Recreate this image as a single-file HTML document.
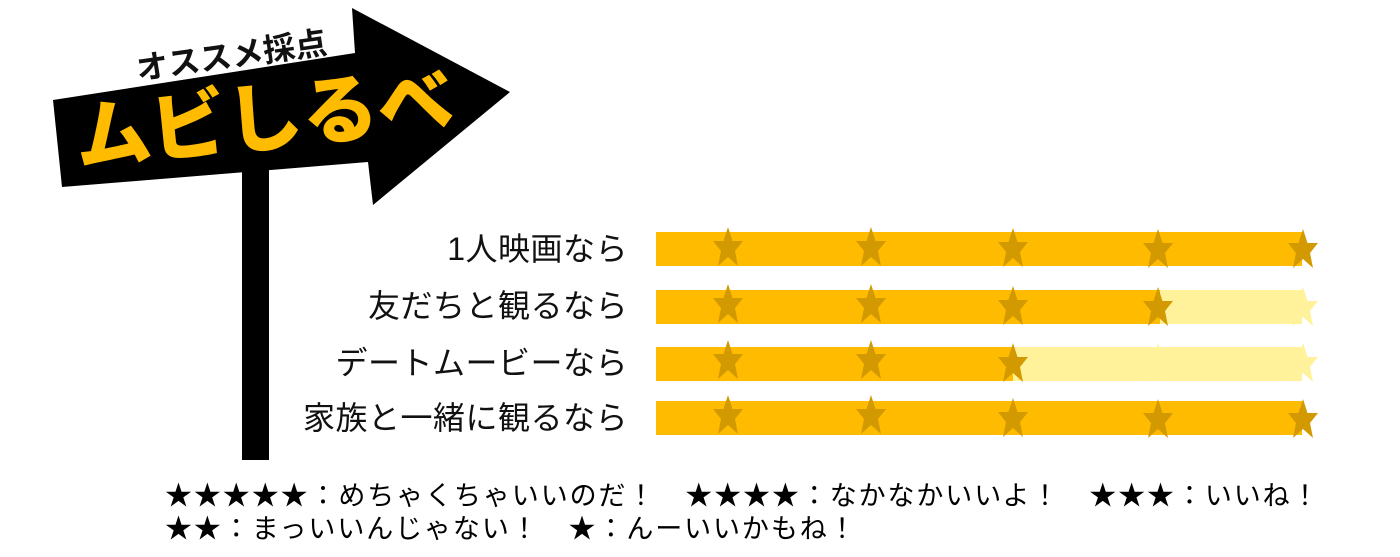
<!DOCTYPE html>
<html><head><meta charset="utf-8"><style>
body{margin:0;width:1400px;height:557px;background:#fff;position:relative;overflow:hidden;font-family:"Liberation Sans","Noto Sans CJK JP",sans-serif;}
.lab{position:absolute;right:772px;font-size:32px;color:#111;white-space:nowrap;line-height:34px;letter-spacing:0.5px;}
.leg{position:absolute;left:165px;font-size:27px;letter-spacing:1.9px;color:#000;white-space:nowrap;line-height:32px;}
</style></head><body>
<svg width="1400" height="557" style="position:absolute;left:0;top:0">
<rect x="242" y="165" width="27" height="295" fill="#000"/>
<polygon points="53,100 355,53 352,8 510,92 373,205 368,162 62,187" fill="#000"/>
<text x="138" y="80" font-size="32" font-weight="bold" fill="#111" transform="rotate(-8 138 80)" font-family="Noto Sans CJK JP,sans-serif">オススメ採点</text>
<text x="78" y="165" font-size="76" font-weight="900" fill="#FFBB00" transform="rotate(-6 78 165)" font-family="Noto Sans CJK JP,sans-serif">ムビしるべ</text>
<defs><polygon id="s" points="0,-20 4.5,-6 15,-6 7,4 10,19 0,10 -10,19 -7,4 -15,-6 -4.5,-6"/></defs>
<g>
<rect x="656" y="232" width="646" height="34" fill="#FFBB00"/>
<rect x="656" y="290" width="504" height="34" fill="#FFBB00"/><rect x="1160" y="290" width="142" height="34" fill="#FFF29A"/>
<rect x="656" y="347" width="357" height="34" fill="#FFBB00"/><rect x="1013" y="347" width="289" height="34" fill="#FFF29A"/>
<rect x="656" y="401" width="646" height="34" fill="#FFBB00"/>
</g>
<g fill="#D29A00">
<use href="#s" x="728" y="247"/><use href="#s" x="871" y="247"/><use href="#s" x="1013" y="248"/><use href="#s" x="1158" y="249"/><use href="#s" x="1303" y="249"/>
<use href="#s" x="728" y="304"/><use href="#s" x="871" y="304"/><use href="#s" x="1013" y="306"/><use href="#s" x="1158" y="307"/>
<use href="#s" x="728" y="360"/><use href="#s" x="871" y="360"/><use href="#s" x="1013" y="363"/>
<use href="#s" x="728" y="415"/><use href="#s" x="871" y="415"/><use href="#s" x="1013" y="418"/><use href="#s" x="1158" y="419"/><use href="#s" x="1303" y="419"/>
</g>
<g fill="#FFF29A">
<use href="#s" x="1303" y="307"/><use href="#s" x="1158" y="363"/><use href="#s" x="1303" y="363"/>
</g>
</svg>
<div class="lab" style="top:232px">1人映画なら</div>
<div class="lab" style="top:289px">友だちと観るなら</div>
<div class="lab" style="top:346px">デートムービーなら</div>
<div class="lab" style="top:401px">家族と一緒に観るなら</div>
<div class="leg" style="top:480px">★★★★★：めちゃくちゃいいのだ！　★★★★：なかなかいいよ！　★★★：いいね！</div>
<div class="leg" style="top:513px">★★：まっいいんじゃない！　★：んーいいかもね！</div>
</body></html>
